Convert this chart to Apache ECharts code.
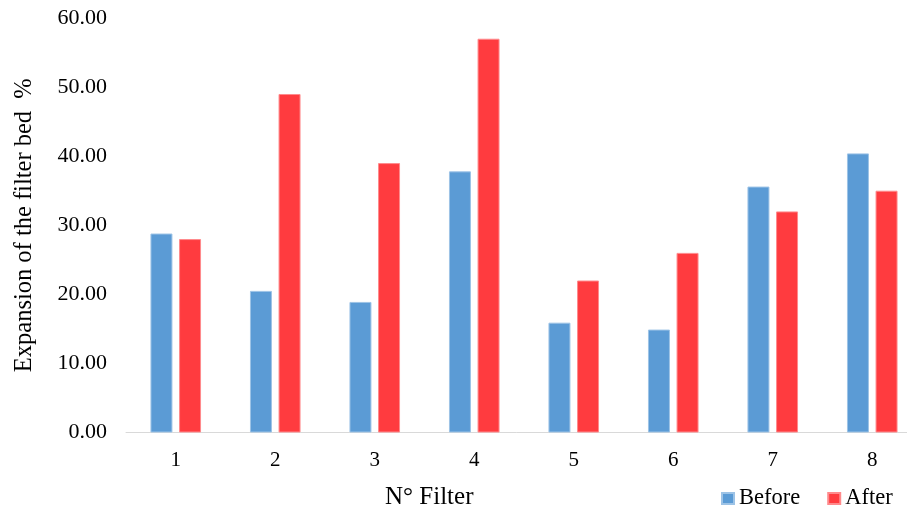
<!DOCTYPE html>
<html>
<head>
<meta charset="utf-8">
<script src="https://cdn.jsdelivr.net/npm/echarts@6/dist/echarts.min.js"></script>
<style>
html,body{margin:0;padding:0;background:#fff;overflow:hidden;}
#chart{width:907px;height:511px;}
</style>
</head>
<body>
<div id="chart"></div>
<script>
var categories = ['1','2','3','4','5','6','7','8'];
var beforeValues = [28.8, 20.5, 18.9, 37.8, 15.9, 14.9, 35.6, 40.4];
var afterValues = [28.0, 49.0, 39.0, 57.0, 22.0, 26.0, 32.0, 35.0];
var seriesNames = ['Before', 'After'];
var yTitle = 'Expansion of the filter bed  %';
var xTitle = 'N° Filter';

var font = '"Liberation Serif", "Times New Roman", serif';
var chart = echarts.init(document.getElementById('chart'), null, {renderer:'canvas'});
chart.setOption({
  animation: false,
  backgroundColor: '#ffffff',
  textStyle: {fontFamily: font},
  grid: {left: 126, width: 796, top: 18, bottom: 78.5, containLabel: false, outerBoundsMode: 'none'},
  legend: {
    left: 716, top: 482,
    itemWidth: 12, itemHeight: 11, itemGap: 27,
    icon: 'rect',
    textStyle: {fontFamily: font, fontSize: 22.5, color: '#000'},
    data: seriesNames
  },
  graphic: [{
    type: 'text', left: 385, top: 485,
    style: {text: xTitle, font: '25px ' + font, fill: '#000'}
  }],
  xAxis: {
    type: 'category',
    data: categories,
    axisLine: {show: true, lineStyle: {color: '#D9D9D9', width: 1}},
    axisTick: {show: false},
    axisLabel: {fontFamily: font, fontSize: 21, color: '#000', margin: 17},
    splitLine: {show: false}
  },
  yAxis: {
    type: 'value',
    min: 0, max: 60, interval: 10,
    name: yTitle,
    nameLocation: 'middle',
    nameGap: 89,
    nameTextStyle: {fontFamily: font, fontSize: 24.5, color: '#000'},
    axisLine: {show: false},
    axisTick: {show: false},
    splitLine: {show: false},
    axisLabel: {
      fontFamily: font, fontSize: 22, color: '#000', margin: 19,
      formatter: function(v){ return v.toFixed(2); }
    }
  },
  series: [
    {
      name: seriesNames[0], type: 'bar', data: beforeValues,
      barWidth: '22.1%', barGap: '30%',
      itemStyle: {color: '#5B9BD5', borderColor: '#9DC3E6', borderWidth: 1}
    },
    {
      name: seriesNames[1], type: 'bar', data: afterValues,
      barWidth: '22.1%', barGap: '30%',
      itemStyle: {color: '#FF3B3F', borderColor: '#FF8A8C', borderWidth: 1}
    }
  ]
});
</script>
</body>
</html>
